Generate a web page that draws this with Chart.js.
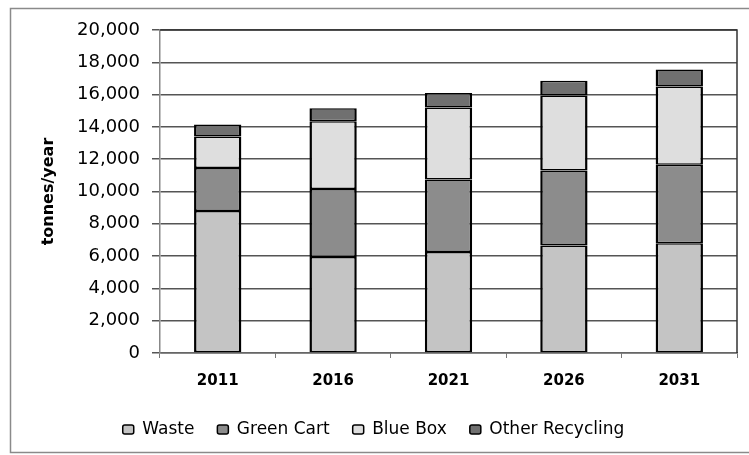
<!DOCTYPE html>
<html>
<head>
<meta charset="utf-8">
<script src="https://cdn.jsdelivr.net/npm/chart.js@4"></script>
<style>
html,body{margin:0;padding:0;background:#fff;}
canvas{display:block;}
</style>
</head>
<body>
<canvas id="c" width="749" height="455"></canvas>
<script>
const categories = ["2011", "2016", "2021", "2026", "2031"];
const waste = [8800, 5950, 6250, 6650, 6800];
const greenCart = [2650, 4200, 4500, 4650, 4850];
const blueBox = [1950, 4200, 4450, 4650, 4850];
const otherRecycling = [750, 800, 900, 900, 1050];
const yTicksMax = 20000;
const yTicksStep = 2000;

const frame = {
  id: 'frame',
  afterDraw(chart) {
    const ctx = chart.ctx;
    const a = chart.chartArea;
    ctx.save();
    ctx.strokeStyle = '#8a8a8a';
    ctx.lineWidth = 1.5;
    ctx.strokeRect(10.5, 8.5, 760, 444);
    ctx.strokeStyle = '#333';
    ctx.lineWidth = 1.5;
    ctx.beginPath();
    ctx.moveTo(a.left, a.top);
    ctx.lineTo(a.right, a.top);
    ctx.lineTo(a.right, a.bottom);
    ctx.stroke();
    ctx.restore();
  }
};

const FONT = "'DejaVu Sans', sans-serif";

new Chart(document.getElementById('c'), {
  type: 'bar',
  data: {
    labels: categories,
    datasets: [
      { label: 'Waste', data: waste, backgroundColor: '#c4c4c4' },
      { label: 'Green Cart', data: greenCart, backgroundColor: '#8c8c8c' },
      { label: 'Blue Box', data: blueBox, backgroundColor: '#dedede' },
      { label: 'Other Recycling', data: otherRecycling, backgroundColor: '#707070' }
    ].map(d => Object.assign(d, {
      borderColor: '#000', borderWidth: { top: 1.5, bottom: 1.5, left: 2.5, right: 2.5 }, borderSkipped: false,
      barPercentage: 0.41, categoryPercentage: 1.0
    }))
  },
  options: {
    responsive: false,
    animation: false,
    layout: { padding: { left: 10, right: 12, top: 30, bottom: 7 } },
    plugins: {
      tooltip: { enabled: false },
      legend: {
        position: 'bottom',
        labels: {
          font: { family: FONT, size: 17 },
          color: '#000',
          boxWidth: 11,
          boxHeight: 9,
          padding: 23,
          useBorderRadius: true,
          borderRadius: 2,
          generateLabels(chart) {
            const items = Chart.defaults.plugins.legend.labels.generateLabels(chart);
            items.forEach(i => { i.lineWidth = 1.5; i.borderRadius = 2; });
            return items;
          }
        }
      }
    },
    scales: {
      x: {
        stacked: true,
        afterFit(s) { s.height -= 6; },
        grid: { display: true, drawOnChartArea: false, color: '#777', tickLength: 5, offset: true },
        border: { color: '#666', width: 1.5 },
        ticks: { font: { family: FONT, size: 15, weight: 'bold' }, color: '#000', padding: 14 }
      },
      y: {
        stacked: true,
        min: 0,
        max: yTicksMax,
        afterFit(s) { s.width = 150; },
        ticks: { stepSize: yTicksStep, font: { family: FONT, size: 18 }, color: '#000', padding: 12 },
        grid: { color: '#555', lineWidth: 1.5, tickLength: 8 },
        border: { color: '#888', width: 1.5 },
        title: {
          display: true,
          text: 'tonnes/year',
          font: { family: FONT, size: 16, weight: 'bold' },
          color: '#000',
          padding: { top: 29, bottom: 0 }
        }
      }
    }
  },
  plugins: [frame]
});
</script>
</body>
</html>
